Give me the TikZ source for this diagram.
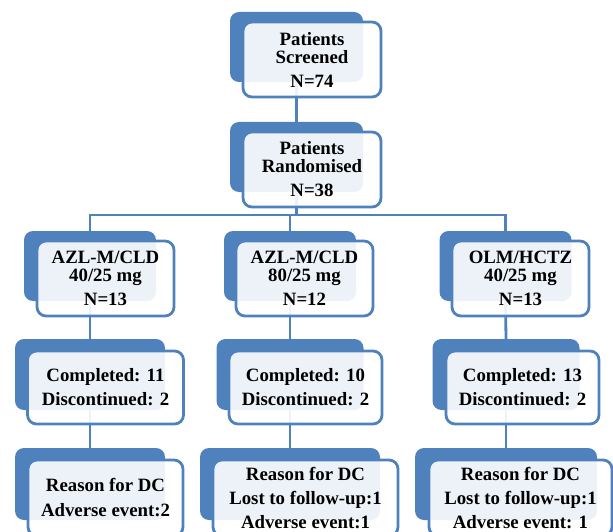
\documentclass[tikz,border=0pt]{standalone}
\usepackage{fontspec}
\setmainfont{Liberation Serif}
\definecolor{obl}{HTML}{4F81BD}
\begin{document}
\begin{tikzpicture}[x=1pt,y=-1pt,
  backbox/.style={fill=obl, rounded corners=9pt, inner sep=0pt},
  frontbox/.style={draw=obl, line width=2.8pt, fill=white, fill opacity=0.9, text opacity=1,
    rounded corners=9pt, align=center, inner sep=0pt,
    font=\bfseries\fontsize{18.8}{24}\selectfont},
  conn/.style={draw=obl, line width=2.8pt}]
\clip (0,0) rectangle (613,532);
% back boxes
\node[backbox, minimum width=133pt, minimum height=70pt] (b1) at (296.5,47) {};
\node[backbox, minimum width=133pt, minimum height=70pt] (b2) at (296.5,157) {};
\node[backbox, minimum width=132pt, minimum height=70pt] (b3a) at (90,266) {};
\node[backbox, minimum width=132pt, minimum height=70pt] (b3b) at (290,266) {};
\node[backbox, minimum width=132pt, minimum height=70pt] (b3c) at (505.5,266) {};
\node[backbox, minimum width=150pt, minimum height=71pt] (b4a) at (90,374.5) {};
\node[backbox, minimum width=147pt, minimum height=71pt] (b4b) at (290,374.5) {};
\node[backbox, minimum width=147pt, minimum height=71pt] (b4c) at (506,374.5) {};
\node[backbox, minimum width=150pt, minimum height=72pt] (b5a) at (90,484) {};
\node[backbox, minimum width=180pt, minimum height=72pt] (b5b) at (290,484) {};
\node[backbox, minimum width=182pt, minimum height=72pt] (b5c) at (506,484) {};
% connectors
\coordinate (bus) at (296.5,215);
\draw[conn] (b1.south) -- (b2.north);
\draw[conn] (b2.south) -- (bus);
\draw[conn] (b3a.north) |- (bus) -| (b3c.north);
\draw[conn] (bus) -| (b3b.north);
\draw[conn] (b3a.south) -- (b4a.north);
\draw[conn] (b3b.south) -- (b4b.north);
\draw[conn] (b3c.south) -- (b4c.north);
\draw[conn] (b4a.south) -- (b5a.north);
\draw[conn] (b4b.south) -- (b5b.north);
\draw[conn] (b4c.south) -- (b5c.north);
% front boxes
\node[frontbox, minimum width=138pt, minimum height=75pt] (f1) at (312,59.5) {Patients\\[-6pt]Screened\\N=74};
\node[frontbox, minimum width=138pt, minimum height=75pt] (f2) at (312,169.5) {Patients\\[-6pt]Randomised\\N=38};
\node[frontbox, minimum width=137pt, minimum height=75pt] (f3a) at (105.5,278.5) {AZL-M/CLD\\[-6pt]40/25 mg\\N=13};
\node[frontbox, minimum width=137pt, minimum height=75pt] (f3b) at (304.5,278.5) {AZL-M/CLD\\[-6pt]80/25 mg\\N=12};
\node[frontbox, minimum width=137pt, minimum height=75pt] (f3c) at (520.5,278.5) {OLM/HCTZ\\[-6pt]40/25 mg\\N=13};
\node[frontbox, minimum width=156pt, minimum height=73pt] (f4a) at (105.5,387.5) {Completed: 11\\Discontinued: 2};
\node[frontbox, minimum width=153pt, minimum height=73pt] (f4b) at (305.5,387.5) {Completed: 10\\Discontinued: 2};
\node[frontbox, minimum width=153pt, minimum height=73pt] (f4c) at (522.5,387.5) {Completed: 13\\Discontinued: 2};
\node[frontbox, minimum width=155pt, minimum height=76pt] (f5a) at (105.5,498) {Reason for DC\\[1pt]Adverse event:2};
\node[frontbox, minimum width=185pt, minimum height=76pt] (f5b) at (305.5,498) {Reason for DC\\Lost to follow-up:1\\Adverse event:1};
\node[frontbox, minimum width=183pt, minimum height=76pt] (f5c) at (520.5,498) {Reason for DC\\Lost to follow-up:1\\Adverse event: 1};
\end{tikzpicture}
\end{document}
